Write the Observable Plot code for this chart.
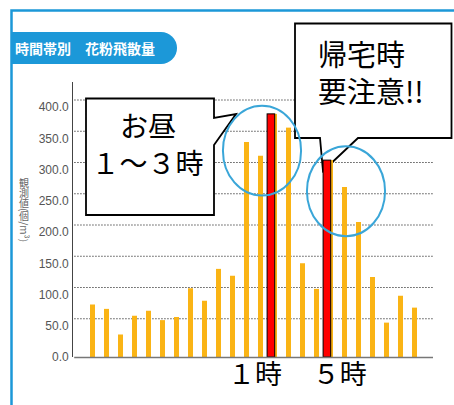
<!DOCTYPE html>
<html><head><meta charset="utf-8">
<script src="https://cdn.jsdelivr.net/npm/d3@7"></script>
<script src="https://cdn.jsdelivr.net/npm/@observablehq/plot@0.6"></script>
<style>html,body{margin:0;padding:0;background:#fff;}#chart{width:454px;height:405px;overflow:hidden;}</style>
</head><body><div id="chart"></div>
<script>
// ---- data ----
const title = "時間帯別　花粉飛散量";
const yTitle = "観測値(個/m³)";
const hours = [0,1,2,3,4,5,6,7,8,9,10,11,12,13,14,15,16,17,18,19,20,21,22,23];
const pollen = [84,77,36,66,74,59,64,110,90,141,130,344,322,389,367,150,109,315,272,216,128,55,98,79];
const peakHours = [13, 17];
const yTicks = [0,50,100,150,200,250,300,350,400];
const gridTicks = [50,100,150,200,250,300,350,400];
const calloutNoon = ["お昼", "１～３時"];
const calloutHome = ["帰宅時", "要注意!!"];
const timeLabels = [{hour: 13, label: "１時"}, {hour: 17, label: "５時"}];
const highlights = [{hour: 12, value: 331}, {hour: 18, value: 266}];

const rows = hours.map((h, i) => ({hour: h, value: pollen[i]}));
const peaks = rows.filter(d => peakHours.includes(d.hour));

const JP = "'Noto Sans CJK JP', 'Noto Sans', sans-serif";
const BLUE = "#1c98d8";

function decor() {
  const g = d3.create("svg:g").attr("text-anchor", "start");
  g.append("path").attr("d", "M11.5,405 V10.5 H454").attr("fill", "none")
    .attr("stroke", BLUE).attr("stroke-width", 2.5);
  g.append("path").attr("d", "M11,32 H161 A16,16 0 0 1 161,64 H11 Z").attr("fill", BLUE);
  g.append("text").attr("x", 15).attr("y", 49).attr("dy", "0.35em").attr("text-anchor", "start")
    .attr("fill", "#fff").attr("font-weight", "bold").attr("font-size", 14)
    .attr("font-family", JP).text(title);
  g.append("text").attr("x", 24).attr("y", 178).attr("text-anchor", "start")
    .attr("style", "writing-mode: vertical-rl; text-orientation: mixed;")
    .attr("fill", "#666").attr("font-size", 10).attr("font-family", JP).text(yTitle);
  // y axis line
  g.append("path").attr("d", "M72.5,82 V357").attr("stroke", "#444").attr("stroke-width", 1);
  return g.node();
}

function callouts() {
  const g = d3.create("svg:g");
  g.append("path").attr("d", "M86,98.5 H214 V118 L236,114 L214,145 V215 H86 Z")
    .attr("fill", "#fff").attr("stroke", "#000").attr("stroke-width", 1.8);
  g.append("path").attr("d", "M295,23.5 H451.5 V138 H358 L323,171 L320,138 H295 Z")
    .attr("fill", "#fff").attr("stroke", "#000").attr("stroke-width", 1.8);
  const t1 = g.append("text").attr("font-family", JP).attr("font-size", 28).attr("fill", "#000")
    .attr("text-anchor", "middle");
  t1.append("tspan").attr("x", 148).attr("y", 137).text(calloutNoon[0]);
  t1.append("tspan").attr("x", 147.5).attr("y", 174).text(calloutNoon[1]);
  const t2 = g.append("text").attr("font-family", JP).attr("font-size", 29).attr("fill", "#000")
    .attr("text-anchor", "start");
  t2.append("tspan").attr("x", 318).attr("y", 66).text(calloutHome[0]);
  t2.append("tspan").attr("x", 318).attr("y", 103).text(calloutHome[1]);
  return g.node();
}

const ellipse = {
  draw(ctx, size) {
    const r = Math.sqrt(size / Math.PI);
    const rx = r * 0.93, ry = r * 1.07, k = 0.5523;
    ctx.moveTo(rx, 0);
    ctx.bezierCurveTo(rx, ry * k, rx * k, ry, 0, ry);
    ctx.bezierCurveTo(-rx * k, ry, -rx, ry * k, -rx, 0);
    ctx.bezierCurveTo(-rx, -ry * k, -rx * k, -ry, 0, -ry);
    ctx.bezierCurveTo(rx * k, -ry, rx, -ry * k, rx, 0);
    ctx.closePath();
  }
};

const chart = Plot.plot({
  width: 454,
  height: 405,
  marginLeft: 74.2,
  marginRight: 21,
  marginTop: 82,
  marginBottom: 48,
  style: {fontFamily: "'Liberation Sans', Arial, sans-serif", fontSize: "12px", color: "#555", background: "transparent", overflow: "visible"},
  x: {type: "band", domain: hours, paddingInner: 0.665, paddingOuter: 0.3325, axis: null},
  y: {domain: [0, 440], ticks: 8, tickFormat: d => d.toFixed(1), tickSize: 0, tickPadding: 6, label: null, grid: false},
  marks: [
    decor,
    Plot.ruleY(gridTicks, {stroke: "#555", strokeDasharray: "1.5,1.5", strokeWidth: 1, dy: -7.5}),
    callouts,
    Plot.barY(rows, {x: "hour", y: "value", fill: "#fab415"}),
    Plot.barY(peaks, {x: "hour", y: "value", fill: "#ff0000", stroke: "#000", strokeWidth: 1, dx: -3.6, insetLeft: -1.3, insetRight: -1.3}),
    Plot.ruleY([0], {stroke: "#777", strokeWidth: 1.5}),
    Plot.dot(highlights, {x: "hour", y: "value", r: 42, symbol: ellipse, stroke: "#3aa6d8", strokeWidth: 2, fill: "none", dx: 1}),
    Plot.text(timeLabels.slice(0, 1), {x: "hour", text: "label", frameAnchor: "bottom", dy: 26.5, dx: -20, fontSize: 27, fill: "#000", fontFamily: JP}),
    Plot.text(timeLabels.slice(1), {x: "hour", text: "label", frameAnchor: "bottom", dy: 26.5, dx: 8.7, fontSize: 27, fill: "#000", fontFamily: JP})
  ]
});
document.getElementById("chart").appendChild(chart);
</script>
</body></html>
